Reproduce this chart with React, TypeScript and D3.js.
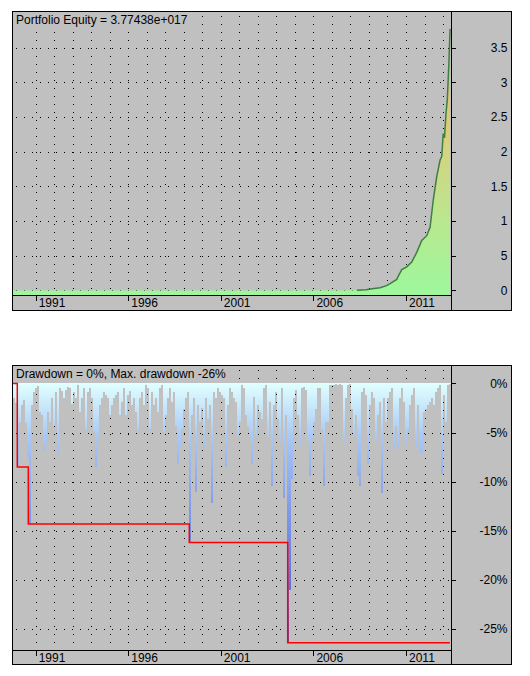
import React from 'react';
import * as d3 from 'd3';

// equity, in units of 1e17 (decimal years)
const equityYears = [
  1989.774, 2006.9, 2008.35, 2008.84, 2009.27, 2009.6, 2009.95, 2010.14, 2010.5, 2010.57,
  2010.77, 2011.04, 2011.31, 2011.58, 2011.85, 2012.12, 2012.3, 2012.47, 2012.66, 2012.84,
  2012.93, 2013.01, 2013.08, 2013.16, 2013.23, 2013.31, 2013.38,
];
const equityValues = [
  0, 0, 0.005, 0.01, 0.03, 0.04, 0.07, 0.1, 0.16, 0.2,
  0.3, 0.34, 0.41, 0.55, 0.72, 0.79, 0.91, 1.3, 1.64, 1.88,
  1.93, 2.26, 2.2, 2.55, 2.75, 3.23, 3.77,
];
const equityTicks = [0, 0.5, 1, 1.5, 2, 2.5, 3, 3.5];
const equityTickLabels = ['0', '5', '1', '1.5', '2', '2.5', '3', '3.5'];

// drawdown (% below peak), one sample every ddStep years from ddStart
const ddStart = 1989.774;
const ddStep = 0.10802;
const drawdown = [
  1.5, 2.0, 8.5, 3.9, 2.2, 1.7, 4.0, 7.5, 14.3, 2.2,
  0.9, 0.5, 0.3, 2.9, 3.2, 7.0, 6.1, 2.9, 3.9, 1.5,
  4.3, 0.9, 7.1, 0.5, 0.8, 1.5, 0.7, 0.4, 0.5, 2.1,
  0.9, 1.5, 0.2, 2.9, 1.5, 0.5, 4.6, 0.9, 0.5, 1.5,
  4.9, 8.5, 5.4, 2.2, 1.5, 0.9, 1.2, 1.5, 3.2, 2.2,
  1.5, 1.2, 0.9, 3.2, 1.9, 0.5, 3.2, 1.2, 0.8, 2.2,
  1.5, 2.9, 4.6, 1.5, 0.9, 2.2, 0.2, 0.5, 4.6, 0.9,
  2.2, 1.5, 2.9, 0.5, 0.2, 4.9, 3.2, 1.5, 0.5, 1.9,
  0.9, 4.3, 8.2, 6.3, 4.6, 2.6, 1.5, 0.9, 16.2, 3.2,
  1.5, 11.0, 2.2, 3.9, 2.5, 6.6, 1.5, 3.6, 2.2, 12.2,
  0.9, 1.5, 0.5, 0.9, 1.2, 1.5, 8.5, 2.2, 0.5, 0.9,
  1.5, 1.9, 5.3, 3.9, 0.2, 0.5, 3.2, 4.3, 5.4, 8.2,
  1.4, 5.3, 2.2, 2.9, 3.6, 0.5, 0.2, 5.4, 1.9, 10.4,
  2.2, 0.9, 3.6, 6.0, 0.5, 11.7, 3.2, 26.4, 21.0, 9.7,
  1.5, 0.7, 3.2, 6.3, 0.5, 0.4, 0.7, 6.0, 9.4, 5.6,
  3.9, 2.6, 0.5, 0.5, 4.6, 10.4, 3.9, 3.9, 0.2, 0.2,
  0.2, 0.1, 0.2, 0.1, 0.2, 6.0, 1.5, 0.2, 0.1, 2.6,
  5.3, 3.2, 9.4, 10.4, 0.9, 0.5, 1.2, 8.2, 2.2, 0.9,
  1.5, 6.0, 3.2, 1.9, 11.2, 1.5, 3.9, 1.5, 0.9, 0.5,
  6.8, 4.3, 6.6, 1.5, 0.5, 1.9, 6.1, 4.6, 2.2, 1.2,
  0.5, 6.6, 2.2, 7.1, 7.1, 2.9, 2.6, 2.2, 1.9, 1.5,
  2.2, 0.9, 0.5, 0.2, 9.2, 1.2, 3.9, 0.2, 0.1,
];

// max drawdown so far (step line)
const maxDdYears = [1989.774, 1990.006, 1990.6, 1999.296, 2004.611, 2013.376];
const maxDdValues = [0, -8.5, -14.3, -16.2, -26.4, -26.4];

const ddTicks = [0, -5, -10, -15, -20, -25];
const ddTickLabels = ['0%', '-5%', '-10%', '-15%', '-20%', '-25%'];

const yearTicks = [1991, 1996, 2001, 2006, 2011];
const gridYears = d3.range(1991, 2014);

const equityTitle = 'Portfolio Equity = 3.77438e+017';
const ddTitle = 'Drawdown = 0%, Max. drawdown -26%';

const FONT = '"Liberation Sans", Arial, sans-serif';
const BG = '#c0c0c0';

const left = 12.5;
const plotRight = 451.5;
const right = 511.5;

const x = d3.scaleLinear().domain([1989.774, 2013.43]).range([13, 451]);

const top1 = { top: 11.5, plotBottom: 295.5, bottom: 310.5 };
const top2 = { top: 365.5, plotBottom: 650.5, bottom: 664.5 };

const yEq = d3.scaleLinear().domain([-0.065, 4.013]).range([295, 12]);
const yDd = d3.scaleLinear().domain([1.78, -27.19]).range([366, 650.5]);

const px = (v: number) => Math.round(v) + 0.5;

function Frame({ p }: { p: typeof top1 }) {
  return (
    <g fill="none" stroke="#000" strokeWidth={1} shapeRendering="crispEdges">
      <rect x={left} y={p.top} width={right - left} height={p.bottom - p.top} />
      <line x1={plotRight} x2={plotRight} y1={p.top} y2={p.bottom} />
      <line x1={left} x2={plotRight} y1={p.plotBottom} y2={p.plotBottom} />
    </g>
  );
}

function Grid({ p, rows }: { p: typeof top1; rows: number[] }) {
  return (
    <g stroke="#000" strokeWidth={1} strokeDasharray="1 7" shapeRendering="crispEdges">
      {gridYears.map(yr => (
        <line key={'v' + yr} x1={px(x(yr))} x2={px(x(yr))} y1={p.top + 4.5} y2={p.plotBottom - 1} />
      ))}
      {rows.map((r, i) => (
        <line key={'h' + i} x1={16} x2={plotRight - 1} y1={px(r)} y2={px(r)} />
      ))}
    </g>
  );
}

function Title({ p, text, width }: { p: typeof top1; text: string; width: number }) {
  return (
    <g>
      <rect x={13} y={p.top + 0.5} width={width} height={15} fill={BG} />
      <text x={16} y={p.top + 12} fontFamily={FONT} fontSize={12} fill="#000">{text}</text>
    </g>
  );
}

function DateAxis({ p }: { p: typeof top1 }) {
  return (
    <g>
      {yearTicks.map(yr => (
        <g key={yr}>
          <line x1={px(x(yr))} x2={px(x(yr))} y1={p.plotBottom} y2={p.plotBottom + 5}
            stroke="#000" shapeRendering="crispEdges" />
          <text x={x(yr) + 3} y={p.plotBottom + 11.5} fontFamily={FONT} fontSize={12} fill="#000">
            {yr}
          </text>
        </g>
      ))}
    </g>
  );
}

function ValueAxis({ ys, labels }: { ys: number[]; labels: string[] }) {
  return (
    <g>
      {ys.map((yv, i) => (
        <g key={i}>
          <line x1={plotRight} x2={456} y1={px(yv)} y2={px(yv)} stroke="#000" shapeRendering="crispEdges" />
          <text x={507.5} y={yv} dy="0.36em" textAnchor="end" fontFamily={FONT} fontSize={12} fill="#000">
            {labels[i]}
          </text>
        </g>
      ))}
    </g>
  );
}

export default function App() {
  const eq = equityYears.map((yr, i) => ({ yr, v: equityValues[i] }));
  const area = d3.area<{ yr: number; v: number }>()
    .x(d => x(d.yr))
    .y0(top1.plotBottom - 0.5)
    .y1(d => yEq(d.v));
  const line = d3.line<{ yr: number; v: number }>()
    .x(d => x(d.yr))
    .y(d => yEq(d.v));
  const rising = eq.filter(d => d.v > 0);

  const dd = drawdown.map((v, i) => ({ yr: ddStart + i * ddStep, v: -v }));
  const maxDd = maxDdYears.map((yr, i) => ({ yr, v: maxDdValues[i] }));
  const stepLine = d3.line<{ yr: number; v: number }>()
    .x(d => x(d.yr))
    .y(d => yDd(d.v))
    .curve(d3.curveStepAfter);
  const barW = x(ddStart + ddStep) - x(ddStart);

  return (
    <svg width={530} height={676} style={{ position: 'absolute', left: 0, top: 0, background: '#fff' }}>
      <defs>
        <linearGradient id="eqGrad" gradientUnits="userSpaceOnUse" x1={0} x2={0} y1={yEq(0)} y2={yEq(3.77)}>
          <stop offset="0" stopColor="#9ff79b" />
          <stop offset="0.27" stopColor="#b9e78f" />
          <stop offset="0.55" stopColor="#d6d27f" />
          <stop offset="1" stopColor="#f0b25c" />
        </linearGradient>
        <linearGradient id="ddGrad" gradientUnits="userSpaceOnUse" x1={0} x2={0} y1={yDd(0)} y2={yDd(-26.4)}>
          <stop offset="0" stopColor="#e0ffff" />
          <stop offset="0.2" stopColor="#a9c9f5" />
          <stop offset="0.5" stopColor="#7e98ea" />
          <stop offset="1" stopColor="#4656d2" />
        </linearGradient>
        <clipPath id="clip1">
          <rect x={13} y={12} width={438} height={283} />
        </clipPath>
        <clipPath id="clip2">
          <rect x={13} y={366} width={438} height={284} />
        </clipPath>
      </defs>

      {/* equity panel */}
      <rect x={left} y={top1.top} width={right - left} height={top1.bottom - top1.top} fill={BG} />
      <Grid p={top1} rows={equityTicks.map(t => yEq(t))} />
      <g clipPath="url(#clip1)">
        <path d={area(eq) ?? ''} fill="url(#eqGrad)" />
        <path d={line(rising) ?? ''} fill="none" stroke="#3f7f3f" strokeWidth={1.5} />
      </g>
      <Title p={top1} text={equityTitle} width={178} />
      <ValueAxis ys={equityTicks.map(t => yEq(t))} labels={equityTickLabels} />
      <DateAxis p={top1} />
      <Frame p={top1} />

      {/* drawdown panel */}
      <rect x={left} y={top2.top} width={right - left} height={top2.bottom - top2.top} fill={BG} />
      <Grid p={top2} rows={ddTicks.map(t => yDd(t))} />
      <g clipPath="url(#clip2)">
        {dd.map((d, i) => (
          <rect key={i} x={x(d.yr)} y={yDd(0)} width={barW} height={yDd(d.v) - yDd(0)}
            fill="url(#ddGrad)" shapeRendering="crispEdges" />
        ))}
        <path d={stepLine(maxDd) ?? ''} fill="none" stroke="#ff0000" strokeWidth={1.5} />
      </g>
      <Title p={top2} text={ddTitle} width={216} />
      <ValueAxis ys={ddTicks.map(t => yDd(t))} labels={ddTickLabels} />
      <DateAxis p={top2} />
      <Frame p={top2} />
    </svg>
  );
}
